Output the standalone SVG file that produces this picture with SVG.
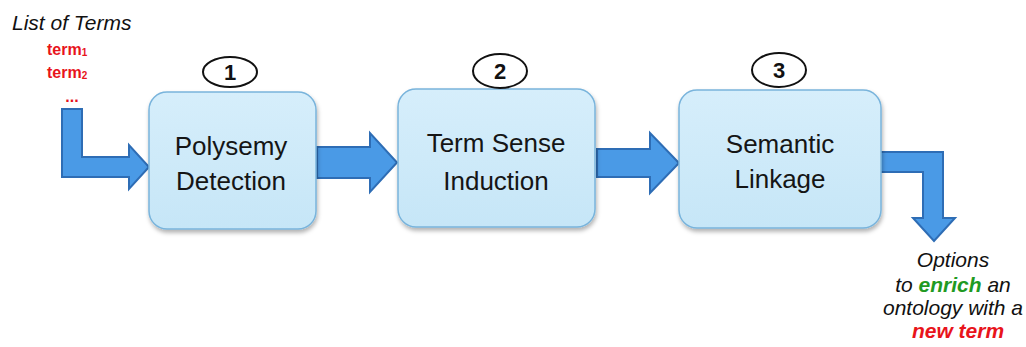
<svg xmlns="http://www.w3.org/2000/svg" width="1026" height="347" viewBox="0 0 1026 347">
<defs>
<linearGradient id="boxg" x1="0" y1="0" x2="0" y2="1">
<stop offset="0" stop-color="#d6eefb"/>
<stop offset="1" stop-color="#c6e6f7"/>
</linearGradient>
<filter id="sh" x="-10%" y="-10%" width="130%" height="130%">
<feDropShadow dx="1" dy="3" stdDeviation="2" flood-color="#000" flood-opacity="0.3"/>
</filter>
</defs>
<style>
.box{fill:url(#boxg);stroke:#79b4dc;stroke-width:1.5;filter:url(#sh)}
.arr{fill:#4a9ae6;stroke:#2e6db5;stroke-width:2;stroke-linejoin:miter}
.lbl{font-family:"Liberation Sans",Arial,sans-serif;font-size:26px;fill:#151515;text-anchor:middle}
.num{fill:#fff;stroke:#111;stroke-width:2}
.numt{font-family:"Liberation Sans",Arial,sans-serif;font-size:22px;font-weight:bold;fill:#111;text-anchor:middle}
.it{font-family:"Liberation Sans",Arial,sans-serif;font-size:21px;font-style:italic;fill:#111}
.term{font-family:"Liberation Sans",Arial,sans-serif;font-size:16px;font-weight:bold;fill:#e8141b}
.red{fill:#e8141b;font-weight:bold}
.green{fill:#1f9a22;font-weight:bold}
</style>
<rect width="1026" height="347" fill="#fff"/>
<g id="connectors">
<path class="arr" d="M62,109 H82 V157 H129 V145 L149,167 L129,189 V177 H62 Z"/>
<path class="arr" d="M317,147 H370 V133 L397,162.5 L370,192 V178 H317 Z"/>
<path class="arr" d="M597,149 H650 V133 L679,163 L650,193 V177 H597 Z"/>
<path class="arr" d="M878,152 H943 V218 H955 L934,241 L913,218 H923 V172 H878 Z"/>
</g>
<g id="input">
<text class="it" x="12" y="30">List of Terms</text>
<text class="term" x="47" y="55">term<tspan font-size="10" dy="1">1</tspan></text>
<text class="term" x="47" y="78">term<tspan font-size="10" dy="1">2</tspan></text>
<text class="term" x="72" y="102" text-anchor="middle" font-size="14">...</text>
</g>
<g id="node1">
<rect class="box" x="149" y="92" width="167" height="137" rx="18"/>
<text class="lbl" x="231" y="155">Polysemy</text>
<text class="lbl" x="231" y="190">Detection</text>
<ellipse class="num" cx="230" cy="72" rx="27" ry="15"/>
<text class="numt" x="230" y="80">1</text>
</g>
<g id="node2">
<rect class="box" x="398" y="89" width="197" height="138" rx="18"/>
<text class="lbl" x="496" y="152">Term Sense</text>
<text class="lbl" x="496" y="190">Induction</text>
<ellipse class="num" cx="500" cy="71" rx="27" ry="17"/>
<text class="numt" x="500" y="79">2</text>
</g>
<g id="node3">
<rect class="box" x="679" y="90" width="202" height="138" rx="18"/>
<text class="lbl" x="780" y="153">Semantic</text>
<text class="lbl" x="780" y="188">Linkage</text>
<ellipse class="num" cx="779" cy="70" rx="27" ry="17"/>
<text class="numt" x="779" y="78">3</text>
</g>
<g id="output">
<text class="it" x="953" y="267" text-anchor="middle">Options</text>
<text class="it" x="953" y="292" text-anchor="middle">to <tspan class="green">enrich</tspan> an</text>
<text class="it" x="953" y="315" text-anchor="middle">ontology with a</text>
<text class="it" x="958" y="338" text-anchor="middle"><tspan class="red">new term</tspan></text>
</g>
</svg>
